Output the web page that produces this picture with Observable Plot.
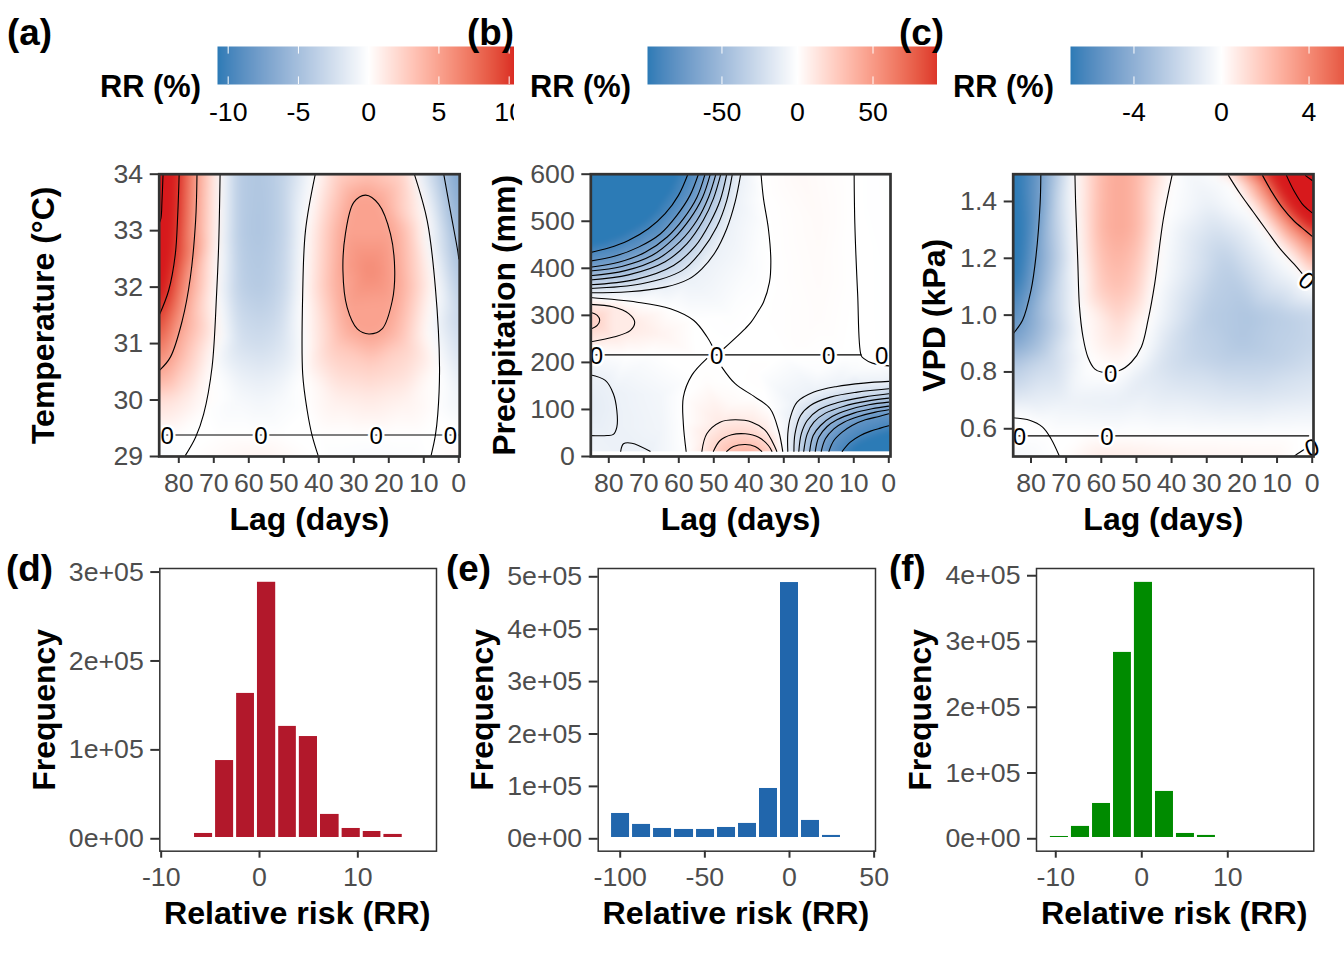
<!DOCTYPE html>
<html><head><meta charset="utf-8">
<script src="https://cdn.jsdelivr.net/npm/d3@7"></script>
<script src="https://cdn.jsdelivr.net/npm/@observablehq/plot@0.6"></script>
<style>
html,body{margin:0;padding:0;background:#fff}
#page{position:relative;width:1344px;height:960px;overflow:hidden;font-family:"Liberation Sans",Arial,sans-serif}
#page svg{position:absolute;background:transparent;font-family:"Liberation Sans",Arial,sans-serif}
.tag{position:absolute;font-weight:bold;font-size:36.8px;line-height:1;color:#000;z-index:5}
</style></head><body><div id="page"></div>
<script>
// ---------- contour lines: level + [lag, y] vertices ----------
const contoursA = [
 {level:15,pts:[[84.5,34],[84.8,33.53],[85.1,33.22],[85.6,33.13]]},
 {level:10,pts:[[79.9,34],[80.3,33.29],[81,32.58],[82.9,31.94],[85.6,31.5]]},
 {level:5,pts:[[74.8,34],[75.2,33.17],[76.7,32.17],[79,31.41],[82.4,30.76],[85.6,30.52]]},
 {level:0,pts:[[68.2,34],[68.6,32.76],[69.2,31.88],[70.5,30.58],[72.9,29.75],[75.2,29.34],[78.1,29.02]]},
 {level:0,pts:[[41,34],[43.8,33],[44.6,31.88],[44.6,30.46],[43.3,29.81],[41.9,29.37],[40.2,29.02]]},
 {level:5,closed:true,pts:[[26.6,33.63],[30,33.5],[32.4,32.94],[33.1,32.29],[31.9,31.64],[29,31.26],[25.7,31.17],[21.9,31.26],[19,31.76],[18.3,32.29],[19.5,32.94],[22.9,33.47]]},
 {level:0,pts:[[12.7,34],[9,33.17],[6.7,32],[5.5,30.58],[6,29.75],[6.7,29.37],[7.9,29.02]]},
 {level:-5,pts:[[4.3,34],[2.4,33.35],[0.3,32.64],[0,32.5]]},
 {level:0,pts:[[85.6,29.38],[80,29.38],[70,29.38],[60,29.38],[50,29.38],[40,29.38],[30,29.38],[20,29.38],[10,29.38],[0,29.38]]}
];
const anchorsA = [[85.6,34,17],[85.6,30,1.8],[85.6,29,-.4],[80,30,1.3],[75,30,.5],[78,30.8,3.2],
 [57,34,-4.5],[57,33,-4.6],[57,32,-4.2],[57,31,-2.7],[57,30.4,-1.4],[57,30,-.7],[57,29,.6],
 [63,34,-4],[63,33,-4],[63,32,-3.6],[63,31,-2.3],[63,30.4,-1.1],[63,30,-.5],
 [50,34,-3.5],[50,33,-3.5],[50,32,-3.1],[50,31,-2],[50,30.4,-1],[50,30,-.4],
 [35,34,2.4],[35,33,3.9],[35,32,4.2],[35,31,3],[35,30.4,1.7],[35,30,.8],[35,29,-.2],
 [25,34,3.3],[25,32.3,6.3],[25,30.6,2.6],[25,30,1.1],[25,29,-.3],
 [15,34,2],[15,33,3.2],[15,32,3.8],[15,31,2.5],[15,30.4,1.5],[15,30,.7],[15,29,-.2],
 [-.5,34,-7.5],[-.5,32.5,-5.2],[-.5,31.5,-3.4],[-.5,31,-2.6],[-.5,30,-.9],[-.5,29.38,0],[-.5,29,.3]];
const labelsA = [[83.3,29.38,0],[56.5,29.38,0],[23.6,29.38,0],[2.4,29.38,0]];

const contoursB = [
 {level:-90,pts:[[57.4,600],[60.1,555],[63.9,516],[68.7,484],[74.4,459],[80.1,443],[85.6,433]]},
 {level:-80,pts:[[54.4,600],[56.8,555],[60.6,512],[65.3,473],[71.5,445],[78.2,426],[85.6,415]]},
 {level:-70,pts:[[52.5,600],[54.8,551],[58.7,505],[63.4,466],[69.6,434],[77.2,413],[85.6,402]]},
 {level:-60,pts:[[51,600],[53.2,551],[56.8,505],[61.5,463],[67.7,427],[76.3,404],[85.6,394]]},
 {level:-50,pts:[[49.4,600],[51.5,551],[54.8,502],[59.6,457],[65.8,421],[75.3,395],[85.6,384]]},
 {level:-40,pts:[[48,600],[50.1,548],[53,502],[57.7,452],[63.9,414],[74.4,386],[85.6,375]]},
 {level:-30,pts:[[46.3,600],[48.2,544],[51,498],[55.3,447],[61.5,406],[72.5,376],[85.6,365]]},
 {level:-20,pts:[[44.7,600],[46.3,544],[49.2,487],[53.4,438],[59.1,395],[70.6,367],[85.6,357]]},
 {level:-10,pts:[[42.3,600],[43.9,541],[46.3,484],[49.6,434],[53.4,399],[57.2,377],[63.9,360],[74.4,350],[85.6,348]]},
 {level:0,pts:[[36.5,600],[35.8,548],[34.4,484],[33.7,416],[34.1,370],[35.8,328],[37.2,310],[39.4,285],[41,272],[47.2,229]]},
 {level:0,pts:[[85.6,338],[71.9,328],[62.4,314],[55.7,289],[51.9,254],[50.5,236]]},
 {level:10,pts:[[85.6,323.5],[78.6,317.7],[74.3,303.7],[72.6,285.8],[73.8,268],[78.6,253.9],[85.6,243.2]]},
 {level:20,pts:[[85.6,307],[83.3,300],[82.6,289.4],[83.3,278.8],[85.6,269.6]]},
 {level:0,pts:[[85.6,216],[75,216],[65,216],[55,216],[49,216],[40,216],[30,216],[20,216],[12,216],[7.9,216]]},
 {level:0,pts:[[9.9,600],[9.7,495],[8.9,346],[7.9,215],[7.1,208],[4.7,198.5],[0,192.6]]},
 {level:-10,pts:[[85.6,174],[81,161.7],[78.7,133.4],[77.7,97.9],[77.7,62.4],[78.7,47],[80.5,44.5],[85.6,44.5]]},
 {level:-10,pts:[[76.6,11],[75.8,27],[73.4,28.3],[68.2,11]]},
 {level:0,pts:[[52,208],[56.3,172.4],[58.7,126.2],[58.7,69.6],[57.9,11]]},
 {level:0,pts:[[47.7,190],[43.9,154.7],[38.2,126.2],[33.9,101.5],[31.5,55.3],[30.3,11]]},
 {level:10,pts:[[53.4,11],[52,48.3],[48.2,73],[43.9,78],[39.1,73],[35.3,55.3],[32.5,19.8],[32,11]]},
 {level:20,pts:[[50.1,11],[48.2,34],[44.9,46.2],[41,48.3],[37.2,41],[34.4,23.4],[33.4,11]]},
 {level:30,pts:[[46.3,11],[44.4,21.3],[41,25.5],[38.2,21.3],[36.3,11]]},
 {level:-10,pts:[[28.85,11],[28.85,48.2],[28.1,83.7],[26.2,115.6],[21.4,136.9],[14.8,148.9],[7.1,156],[0,159.6]]},
 {level:-20,pts:[[27.1,11],[26.8,48.2],[25.2,87.2],[22.4,108.5],[16.7,126.2],[9,136.9],[0,144]]},
 {level:-30,pts:[[25.7,11],[25,48.2],[23.3,76.6],[20,99.3],[14.8,114.2],[7.1,126.2],[0,133.3]]},
 {level:-40,pts:[[24.3,11],[23.3,48.2],[21.4,73],[18.1,92.2],[12.8,107],[6.2,117.7],[0,124]]},
 {level:-50,pts:[[22.6,11],[21.6,44.7],[19.5,65.9],[16.2,85],[11.4,99.3],[5.7,110],[0,115.6]]},
 {level:-60,pts:[[21,11],[20,41],[17.6,63.8],[14.8,78],[10,92.2],[4.8,101.4],[0,107.1]]},
 {level:-70,pts:[[19.3,11],[18.1,37.6],[15.7,58.8],[12.8,73],[8.6,85],[3.8,94.3],[0,99.3]]},
 {level:-80,pts:[[17.1,11],[15.7,34],[13.3,51.7],[10.5,65.9],[6.7,78],[2.8,85],[0,90.8]]},
 {level:-90,pts:[[13.3,11],[11,30.5],[8.1,44.7],[5.2,53.9],[2.4,60.3],[0,65.2]]}
];
const anchorsB = [[85.6,600,-130],[70,600,-125],[85.6,500,-125],[72,530,-115],[85.6,11,-8],
 [-.6,11,-125],[8,11,-108],[-.6,30,-110],
 [25,600,3],[20,500,2.5],[20,400,2],[20,300,1.5],[25,240,1],[-.6,600,-1],[-.6,400,-.5],[-.6,250,-.5],
 [20,180,-2],[10,180,-4],[-.6,175,-7],[38,180,.5],[52,160,1],
 [70,200,-3],[85.6,200,-6],[65,130,-6],[65,60,-7],[62,12,-4],[85.6,110,-14],
 [65,260,6],[85.6,290,25],[85.6,230,7],[41,11,38],[45,110,3],[40,400,-3],[45,300,-1]];
const labelsB = [[83.5,216,0],[49.2,216,0],[17.2,216,0],[2,216,0]];

const contoursC = [
 {level:-5,pts:[[77.2,1.496],[77.4,1.393],[78.6,1.205],[80,1.087],[82.4,.982],[85.2,.932],[85.6,.925]]},
 {level:0,pts:[[67.5,1.496],[67.3,1.393],[66.7,1.193],[66.2,1.029],[65.2,.923],[63.8,.852],[61.9,.811],[60,.8],[54.8,.805],[51.4,.835],[48.6,.888],[46.7,.982],[44.8,1.111],[42.4,1.334],[39.8,1.496]]},
 {level:0,pts:[[23.8,1.491],[20.5,1.427],[16.7,1.362],[12.9,1.297],[9.1,1.233],[5.2,1.18],[2.9,1.147]]},
 {level:5,pts:[[14.1,1.491],[11.4,1.432],[8.6,1.38],[5.3,1.333],[1.9,1.297],[0,1.277]]},
 {level:10,pts:[[7.3,1.491],[5.2,1.438],[2.4,1.385],[0,1.36]]},
 {level:15,pts:[[1.9,1.491],[0,1.474]]},
 {level:0,pts:[[85.6,.575],[75,.575],[65,.575],[55,.575],[45,.575],[35,.575],[25,.575],[15,.575],[5,.575],[1,.575]]},
 {level:0,pts:[[85.6,.639],[80.4,.63],[76.7,.606],[74.3,.565],[71.9,.503]]},
 {level:0,pts:[[5.2,.503],[2.4,.526],[1,.535]]}
];
const anchorsC = [[85.6,1.5,-7.5],[85.6,1.2,-8],[85.6,1,-6],[85.6,.8,-2.5],[85.6,.7,-1],[85.6,.5,-.4],
 [60,1.5,2.4],[60,1.3,2.5],[60,1.1,1.8],[55,1.5,3],[55,1.3,3],[55,1.1,2.2],[55,.95,1.1],[55,.85,.4],[50,1.5,2.5],[50,1.3,2.5],[50,1.1,1.6],
 [18,1,-2.9],[20,.9,-2.8],[25,1.2,-2.3],[30,1.4,-.7],[35,1.5,-.4],[30,1,-2.5],[40,.9,-1.5],[35,.85,-2],[45,.8,-1.2],[40,.75,-1.2],[25,.85,-2.4],[10,1,-2.5],[5,.95,-2.3],[10,.85,-2.3],[15,.75,-1.6],
 [55,.7,-.8],[25,.7,-1.1],[70,.7,-.7],[30,.65,-.6],[10,.65,-.6],[50,.65,-.4],[80,.7,-.9],[75,.85,-2],[72,1.1,-1.8],[72,1.4,-1.8],
 [60,.5,.7],[30,.5,.4],[10,.5,.3],
 [-.6,1.5,18],[-.6,1.47,15],[-.6,1.355,10],[-.6,1.27,5],[-.6,1.1,0],[-.6,1,-2],[-.6,.9,-2],[-.6,.8,-1.5],[-.6,.7,-.9],[-.6,.575,0],[-.6,.5,0]];
const labelsC = [[83.3,.573,0],[58.4,.573,0],[57.3,.795,0],[1.6,1.123,40],[0,.535,-20]];

// ---------- histograms: bin edges and counts ----------
const edgesD = [-6.76,-4.62,-2.48,-.36,1.8,3.9,6.05,8.25,10.4,12.5,14.67];
const countsD = [6000,88000,163500,288500,126400,115000,27400,11600,8200,4900];
const edgesE = [-106,-93.6,-81.2,-68.8,-55.8,-43.4,-31,-18.6,-6.2,6.2,18.6,31];
const countsE = [48300,27400,19700,17800,17800,21600,29300,96000,489000,35000,6400];
const edgesF = [-10.8,-8.35,-5.9,-3.46,-1.03,1.42,3.86,6.3,8.74];
const countsF = [3500,18800,53700,283400,389900,72000,8100,5100];

// ---------- ticks ----------
const lagTicks = [80,70,60,50,40,30,20,10,0];
const tempTicks = [29,30,31,32,33,34];
const precipTicks = [0,100,200,300,400,500,600];
const vpdTicks = [.6,.8,1,1.2,1.4];

const BLUE="#2c7bb6", RED="#d7191c", INK="#4d4d4d", LINE="#333333", TICK=26.7, TITLE=32;
const page=document.getElementById("page");
const colorOf=lim=>({type:"linear",domain:[-lim,0,lim],range:[BLUE,"#ffffff",RED],interpolate:"lab",clamp:true});
function place(svg,left,top){svg.style.left=left+"px";svg.style.top=top+"px";page.appendChild(svg);}
function tag(t,left,cy){const d=document.createElement("div");d.className="tag";d.textContent=t;d.style.left=left+"px";d.style.top=(cy-19)+"px";page.appendChild(d);}

function heat(c){
  const pts=[];
  c.contours.forEach(k=>k.pts.forEach(p=>pts.push({x:p[0],y:p[1],v:k.level})));
  c.anchors.forEach(a=>pts.push({x:a[0],y:a[1],v:a[2]}));
  const lines=[];
  c.contours.forEach((k,i)=>k.pts.forEach(p=>lines.push({id:i,closed:!!k.closed,x:p[0],y:p[1]})));
  const W=c.ml+c.fw+16, H=c.mt+c.fh+90;
  const svg=Plot.plot({width:W,height:H,marginLeft:c.ml,marginRight:16,marginTop:c.mt,marginBottom:90,
    style:{background:"transparent",overflow:"visible"},
    x:{domain:c.xd,label:null},y:{domain:c.yd,label:null},color:colorOf(c.lim),
    marks:[
      Plot.raster(pts,{x:"x",y:"y",fill:"v",interpolate:"barycentric",blur:c.blur,pixelSize:1,
        x1:c.xd[0],x2:c.xd[1],y1:c.rasterY?c.rasterY[0]:c.yd[0],y2:c.rasterY?c.rasterY[1]:c.yd[1]}),
      Plot.line(lines.filter(d=>!d.closed),{x:"x",y:"y",z:"id",stroke:"#000",strokeWidth:1.1,curve:"catmull-rom",clip:"frame"}),
      Plot.line(lines.filter(d=>d.closed),{x:"x",y:"y",z:"id",stroke:"#000",strokeWidth:1.1,curve:"catmull-rom-closed",clip:"frame"}),
      Plot.text(c.labels,{x:d=>d[0],y:d=>d[1],rotate:d=>d[2],text:()=>"0",fontSize:24,fill:"#000",stroke:"#fff",strokeWidth:5,dy:1,lineAnchor:"middle"}),
      Plot.frame({stroke:LINE,strokeWidth:2.7}),
      Plot.axisX(lagTicks,{anchor:"bottom",label:null,tickSize:7,tickPadding:10,fontSize:TICK,fill:INK,stroke:LINE,strokeWidth:2,tickFormat:d=>String(d)}),
      Plot.axisY(c.yTicks,{anchor:"left",label:null,tickSize:9,tickPadding:7,fontSize:TICK,fill:INK,stroke:LINE,strokeWidth:2,tickFormat:c.yFmt}),
      Plot.text(["Lag (days)"],{frameAnchor:"bottom",dy:63,textAnchor:"middle",lineAnchor:"middle",fontSize:TITLE,fontWeight:"bold",fill:"#000"}),
      Plot.text([c.yTitle],{frameAnchor:"left",dx:c.yTitleDx,rotate:-90,textAnchor:"middle",lineAnchor:"middle",fontSize:TITLE,fontWeight:"bold",fill:"#000"})
    ]});
  place(svg,c.left,c.top);
}

function legend(c){
  const W=c.ml+c.fw;
  const svg=Plot.plot({width:W,height:90,marginLeft:c.ml,marginRight:0,marginTop:6,marginBottom:46,
    style:{background:"transparent"},
    x:{domain:c.xd,label:null},y:{domain:[0,1],label:null,axis:null},color:colorOf(c.lim),
    marks:[
      Plot.raster({fill:(x,y)=>x,x1:c.xd[0],x2:c.xd[1],y1:0,y2:1,pixelSize:1}),
      Plot.ruleX(c.ticks,{y1:0,y2:.2,stroke:"#fff",strokeWidth:1}),
      Plot.ruleX(c.ticks,{y1:.8,y2:1,stroke:"#fff",strokeWidth:1}),
      Plot.axisX(c.ticks,{anchor:"bottom",label:null,tickSize:0,tickPadding:18,fontSize:TICK,fill:"#000",stroke:"none",tickFormat:d=>String(d)}),
      Plot.text(["RR (%)"],{frameAnchor:"left",dx:-16.5,dy:22,textAnchor:"end",lineAnchor:"middle",fontSize:30.8,fontWeight:"bold",fill:"#000"})
    ]});
  place(svg,c.left,40);
}

function hist(c){
  const bars=c.counts.map((n,i)=>({x1:c.edges[i],x2:c.edges[i+1],n}));
  const sci=d=>d.toExponential(0).replace(/e\+(\d)$/,"e+0$1");
  const fw=c.fw,fh=282.7,mt=28,mb=90;
  const svg=Plot.plot({width:c.ml+fw+16,height:mt+fh+mb,marginLeft:c.ml,marginRight:16,marginTop:mt,marginBottom:mb,
    style:{background:"transparent",overflow:"visible"},
    x:{domain:c.xd,label:null},y:{domain:c.yd,label:null},
    marks:[
      Plot.rectY(bars,{x1:"x1",x2:"x2",y1:()=>0,y2:"n",fill:c.color,insetLeft:1.5,insetRight:1.5,insetBottom:1.3}),
      Plot.frame({stroke:LINE,strokeWidth:1.5}),
      Plot.axisX(c.xTicks,{anchor:"bottom",label:null,tickSize:7,tickPadding:9,fontSize:TICK,fill:INK,stroke:LINE,strokeWidth:2,tickFormat:d=>String(d)}),
      Plot.axisY(c.yTicks,{anchor:"left",label:null,tickSize:9,tickPadding:7,fontSize:TICK,fill:INK,stroke:LINE,strokeWidth:2,tickFormat:sci}),
      Plot.text(["Relative risk (RR)"],{frameAnchor:"bottom",dx:-1,dy:62,textAnchor:"middle",lineAnchor:"middle",fontSize:32.2,fontWeight:"bold",fill:"#000"}),
      Plot.text(["Frequency"],{frameAnchor:"left",dx:c.titleDx,rotate:-90,textAnchor:"middle",lineAnchor:"middle",fontSize:TITLE,fontWeight:"bold",fill:"#000"})
    ]});
  place(svg,c.left,540);
}

heat({left:20,top:140,ml:138.7,mt:33.7,fw:300.5,fh:282.3,xd:[85.6,-.26],yd:[29,34],lim:10.76,blur:5,
  contours:contoursA,anchors:anchorsA,labels:labelsA,yTicks:tempTicks,yFmt:d=>String(d),yTitle:"Temperature (°C)",yTitleDx:-115});
heat({left:470,top:140,ml:120.3,mt:33.7,fw:299.7,fh:282.3,xd:[85.14,-.49],yd:[0,600],rasterY:[600,11],lim:99.3,blur:2,
  contours:contoursB,anchors:anchorsB,labels:labelsB,yTicks:precipTicks,yFmt:d=>String(d),yTitle:"Precipitation (mm)",yTitleDx:-86});
heat({left:900,top:140,ml:112.7,mt:33.7,fw:300.3,fh:282.3,xd:[85.06,-.37],yd:[.5024,1.496],lim:6.9,blur:5,
  contours:contoursC,anchors:anchorsC,labels:labelsC,yTicks:vpdTicks,yFmt:d3.format(".1f"),yTitle:"VPD (kPa)",yTitleDx:-78.5});

legend({left:90,ml:127,fw:297,xd:[-10.76,10.38],lim:10.76,ticks:[-10,-5,0,5,10]});
legend({left:520,ml:127,fw:290,xd:[-99.3,92.7],lim:99.3,ticks:[-50,0,50]});
legend({left:943,ml:127,fw:274,xd:[-6.9,5.62],lim:6.9,ticks:[-4,0,4]});

hist({left:20,ml:139.3,fw:276.7,xd:[-10.14,18],yd:[-13950,304000],edges:edgesD,counts:countsD,color:"#b2182b",
  xTicks:[-10,0,10],yTicks:[0,1e5,2e5,3e5],titleDx:-115});
hist({left:460,ml:137.7,fw:277.3,xd:[-113,50.8],yd:[-23660,515800],edges:edgesE,counts:countsE,color:"#2166ac",
  xTicks:[-100,-50,0,50],yTicks:[0,1e5,2e5,3e5,4e5,5e5],titleDx:-115.7});
hist({left:900,ml:136,fw:277.3,xd:[-12.24,20],yd:[-18860,411000],edges:edgesF,counts:countsF,color:"#008b00",
  xTicks:[-10,0,10],yTicks:[0,1e5,2e5,3e5,4e5],titleDx:-116});

tag("(a)",7,34);tag("(b)",467,34);tag("(c)",899,34);
tag("(d)",6,570);tag("(e)",446,570);tag("(f)",889,570);
</script></body></html>
